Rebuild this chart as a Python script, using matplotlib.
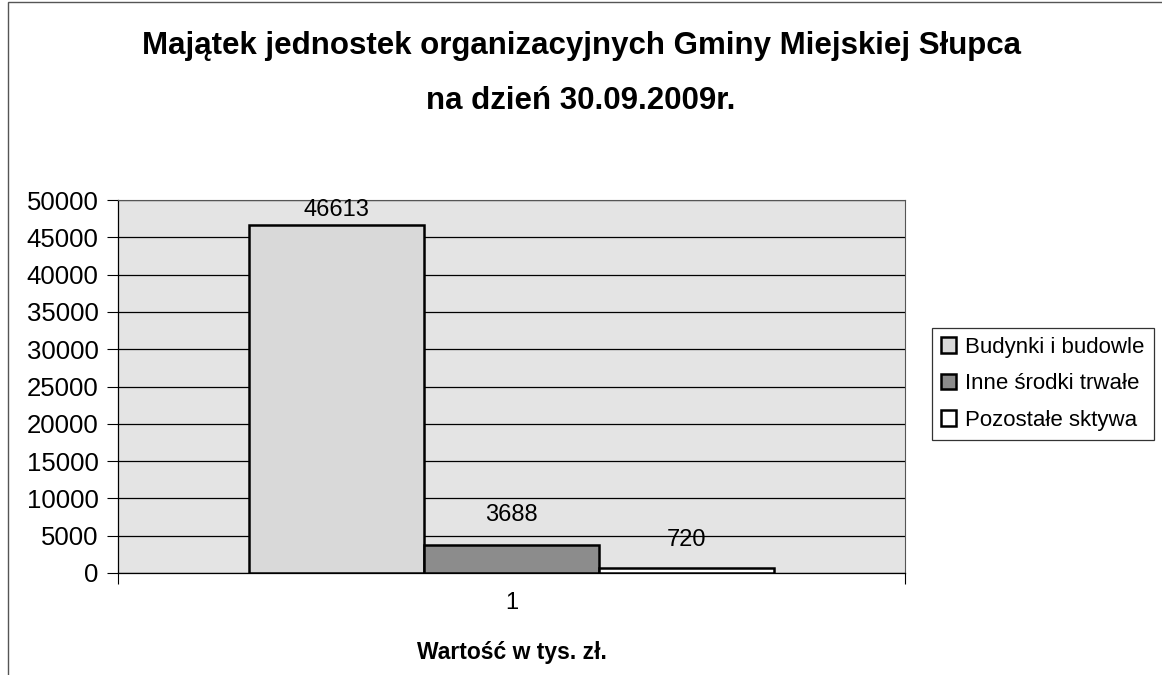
"""Majątek jednostek organizacyjnych - wykres słupkowy."""

import matplotlib.pyplot as plt
from matplotlib.patches import Rectangle

series = ["Budynki i budowle", "Inne środki trwałe", "Pozostałe sktywa"]
values = [46613, 3688, 720]
category = "1"
colors = ["#d9d9d9", "#8c8c8c", "#ffffff"]
yticks = list(range(0, 50001, 5000))

plt.rcParams["font.family"] = ["Liberation Sans", "DejaVu Sans"]

fig = plt.figure(figsize=(11.62, 6.75), dpi=100)
W, H = 1162, 675
ax = fig.add_axes([118 / W, 1 - 573 / H, (905 - 118) / W, (573 - 200) / H])
ax.set_facecolor("#e4e4e4")

# border of the whole chart area
fig.patches.append(Rectangle((8 / W, -0.05), 1.2, 1 - 2 / H + 0.05,
                             transform=fig.transFigure, fill=False,
                             edgecolor="#555555", linewidth=1.0))

width = 1 / 4.5
offsets = [-width, 0, width]
label_pad = [11, 22, 20]
handles = []
for name, val, col, off, pad in zip(series, values, colors, offsets, label_pad):
    b = ax.bar(off, val, width=width, color=col, edgecolor="black",
               linewidth=1.8, label=name, zorder=3)
    handles.append(b)
    ax.annotate(str(val), (off, val), xytext=(0, pad), textcoords="offset points",
                ha="center", va="center", fontsize=17)

ax.set_xlim(-0.5, 0.5)
ax.set_ylim(0, 50000)
ax.set_yticks(yticks)
ax.set_yticklabels([str(t) for t in yticks], fontsize=18.5)
ax.set_xticks([0])
ax.set_xticklabels([category], fontsize=17)
ax.set_xticks([-0.5, 0.5], minor=True)
ax.tick_params(axis="x", which="major", length=0, pad=14)
ax.tick_params(axis="x", which="minor", length=8, width=0.8)
ax.tick_params(axis="y", length=8, width=0.8, pad=6)
ax.grid(axis="y", color="black", linewidth=0.9, zorder=1)
for side in ["top", "right"]:
    ax.spines[side].set_color("#555555")
ax.spines["left"].set_linewidth(0.9)
ax.spines["bottom"].set_linewidth(0.9)

ax.set_xlabel("Wartość w tys. zł.", fontsize=16.5, fontweight="bold", labelpad=19)

fig.text(0.5, 1 - 46 / H, "Majątek jednostek organizacyjnych Gminy Miejskiej Słupca",
         ha="center", va="center", fontsize=22.5, fontweight="bold")
fig.text(0.5, 1 - 101 / H, "na dzień 30.09.2009r.",
         ha="center", va="center", fontsize=22.5, fontweight="bold")

leg = fig.legend(handles=handles, loc="upper left",
                 bbox_to_anchor=(932 / W, 1 - 328 / H), fontsize=16,
                 frameon=True, fancybox=False, edgecolor="black",
                 handlelength=0.7, handleheight=0.7, handletextpad=0.4,
                 labelspacing=0.7, borderpad=0.4, borderaxespad=0)
leg.get_frame().set_linewidth(0.9)

plt.savefig("out.png", dpi=100)
plt.close()
